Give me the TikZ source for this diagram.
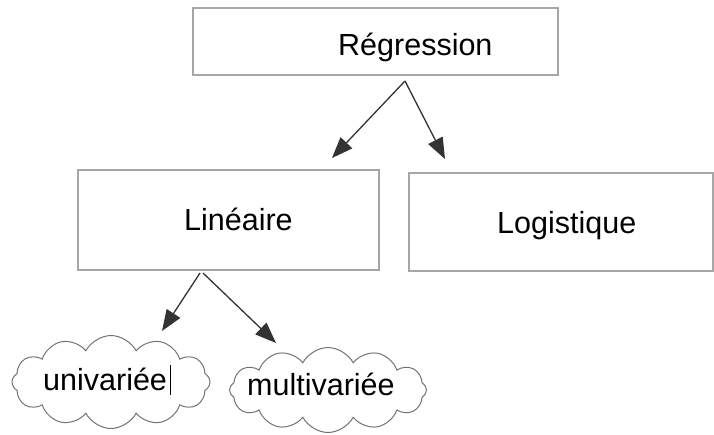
\documentclass[tikz,border=0pt]{standalone}
\usepackage{fontspec}
\setmainfont{Liberation Sans}
\usetikzlibrary{arrows.meta,shapes.symbols}
\begin{document}
\begin{tikzpicture}[x=1pt,y=-1pt,
  box/.style={draw=black!35,line width=1.2pt,inner sep=0pt},
  lbl/.style={inner sep=0pt,anchor=base west,font=\fontsize{30.5}{36}\selectfont},
  puff/.style={cloud,cloud puffs=12,cloud puff arc=125,draw=black!55,line width=1pt,inner sep=0pt},
  link/.style={draw=black!80,line width=1.3pt,-{Triangle[length=21pt,width=16pt]}}]
\useasboundingbox (0,0) rectangle (714,434);
% boxes
\node[box,minimum width=365pt,minimum height=67pt] (reg) at (375.5,41.5) {};
\node[box,minimum width=301pt,minimum height=100pt] (lin) at (228.5,220) {};
\node[box,minimum width=304pt,minimum height=98pt] (logi) at (561,222) {};
% clouds
\node[puff,minimum width=198pt,minimum height=93pt] (uni) at (111,382) {};
\node[puff,minimum width=197pt,minimum height=85pt] (multi) at (328,390) {};
% labels
\node[lbl] (treg) at (338,55) {Régression};
\node[lbl] (tlin) at (184,230) {Linéaire};
\node[lbl] (tlog) at (497,233) {Logistique};
\node[lbl] (tuni) at (43,390) {univariée};
\node[lbl] (tmulti) at (247,395) {multivariée};
% text caret
\draw[line width=1.3pt] (tuni.base east) ++(3,5) coordinate (caretb) -- ++(0,-30) coordinate (carett);
% connector ends
\coordinate (r0) at (405,81);
\coordinate (r1) at (332,158);
\coordinate (r2) at (445,159);
\coordinate (l0) at (200,273);
\coordinate (l0b) at (203,273);
\coordinate (l1) at (162,331);
\coordinate (l2) at (276,343);
\draw[link] (r0) -- (r1);
\draw[link] (r0) -- (r2);
\draw[link] (l0) -- (l1);
\draw[link] (l0b) -- (l2);
\end{tikzpicture}
\end{document}
